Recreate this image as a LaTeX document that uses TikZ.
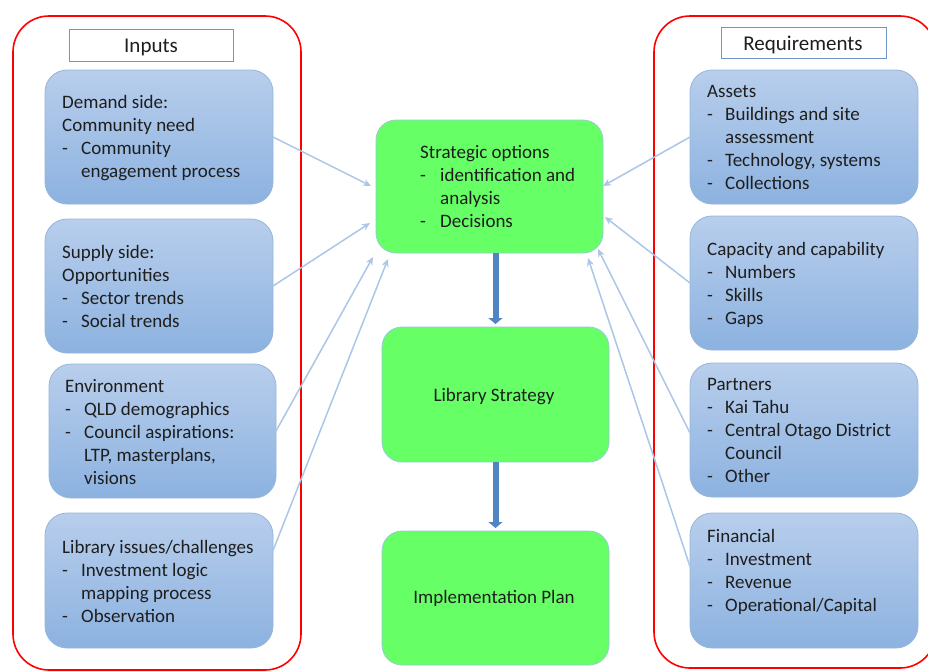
\documentclass[tikz,border=0pt]{standalone}
\usepackage{fontspec}
\setmainfont{Carlito}
\usetikzlibrary{arrows.meta,calc}
\definecolor{boxtop}{RGB}{184,206,236}
\definecolor{boxbot}{RGB}{140,178,224}
\definecolor{boxline}{RGB}{150,182,218}
\definecolor{grn}{RGB}{102,255,102}
\definecolor{grnline}{RGB}{150,205,215}
\definecolor{thinarr}{RGB}{172,198,232}
\definecolor{thickarr}{RGB}{80,133,196}
\definecolor{txt}{RGB}{30,30,30}
\definecolor{lblline}{RGB}{110,150,200}
\newcommand\dd[2][19pt]{\makebox[#1][l]{-}#2}
\newcommand\cc[2][19pt]{\hspace*{#1}#2}
\newcommand\tb[1]{\begin{tabular}[t]{@{}l@{}}#1\end{tabular}}
\begin{document}
\begin{tikzpicture}[x=1pt,y=-1pt,
  bluebox/.style={draw=boxline, line width=0.8pt, rounded corners=22pt, top color=boxtop, bottom color=boxbot, anchor=north west, inner sep=0pt, outer sep=0pt},
  greenbox/.style={draw=grnline, line width=0.8pt, fill=grn, rounded corners=20pt, anchor=north west, inner sep=0pt, outer sep=0pt},
  frm/.style={draw=red, line width=1.6pt, rounded corners=36pt},
  lblbox/.style={draw=lblline, line width=0.8pt, fill=white, anchor=north west, inner sep=0pt},
  tx/.style={anchor=base west, inner sep=0pt, font=\fontsize{19}{23}\selectfont, text=txt},
  ctx/.style={anchor=base, inner sep=0pt, font=\fontsize{19}{23}\selectfont, text=txt},
  ltx/.style={anchor=base, inner sep=0pt, font=\fontsize{21}{25}\selectfont, text=txt},
  thin/.style={draw=thinarr, line width=1.5pt, -{Stealth[length=8pt,width=7pt]}},
  thick/.style={draw=thickarr, line width=6pt, -{Triangle[length=6pt,width=14pt]}, shorten >=3pt}
]
\useasboundingbox (0,0) rectangle (928,670);
\clip (0,0) rectangle (928,670);
\fill[white] (0,0) rectangle (928,670);

% frames
\draw[frm] (13,16) rectangle (301,670);
\draw[frm] (654,16) rectangle (936,668);

% labels
\node[lblbox, minimum width=164pt, minimum height=32pt] (inbox) at (69,29) {};
\node[ltx] (intxt) at (151,52) {Inputs};
\node[lblbox, minimum width=165pt, minimum height=31pt] (reqbox) at (721,27) {};
\node[ltx] (reqtxt) at (803,50) {Requirements};

% left boxes
\node[bluebox, minimum width=228pt, minimum height=134pt] (demand) at (45,70) {};
\node[bluebox, minimum width=228pt, minimum height=134pt] (supply) at (45,219) {};
\node[bluebox, minimum width=227pt, minimum height=134pt] (env) at (49,364) {};
\node[bluebox, minimum width=228pt, minimum height=135pt] (lib) at (45,513) {};

\node[tx] (demandtxt) at (62,108) {\tb{Demand side:\\ Community need\\ \dd{Community}\\ \cc{engagement process}}};
\node[tx] (supplytxt) at (62,258) {\tb{Supply side:\\ Opportunities\\ \dd{Sector trends}\\ \dd{Social trends}}};
\node[tx] (envtxt) at (65,392) {\tb{Environment\\ \dd{QLD demographics}\\ \dd{Council aspirations:}\\ \cc{LTP, masterplans,}\\ \cc{visions}}};
\node[tx] (libtxt) at (62,553) {\tb{Library issues/challenges\\ \dd{Investment logic}\\ \cc{mapping process}\\ \dd{Observation}}};

% right boxes
\node[bluebox, minimum width=228pt, minimum height=134pt] (assets) at (690,70) {};
\node[bluebox, minimum width=228pt, minimum height=134pt] (cap) at (690,216) {};
\node[bluebox, minimum width=228pt, minimum height=134pt] (part) at (690,363) {};
\node[bluebox, minimum width=228pt, minimum height=135pt] (fin) at (690,513) {};

\node[tx] (assetstxt) at (707,97) {\tb{Assets\\ \dd[18pt]{Buildings and site}\\ \cc[18pt]{assessment}\\ \dd[18pt]{Technology, systems}\\ \dd[18pt]{Collections}}};
\node[tx] (captxt) at (707,255) {\tb{Capacity and capability\\ \dd[18pt]{Numbers}\\ \dd[18pt]{Skills}\\ \dd[18pt]{Gaps}}};
\node[tx] (parttxt) at (707,390) {\tb{Partners\\ \dd[18pt]{Kai Tahu}\\ \dd[18pt]{Central Otago District}\\ \cc[18pt]{Council}\\ \dd[18pt]{Other}}};
\node[tx] (fintxt) at (707,542) {\tb{Financial\\ \dd[18pt]{Investment}\\ \dd[18pt]{Revenue}\\ \dd[18pt]{Operational/Capital}}};

% centre boxes
\node[greenbox, minimum width=227pt, minimum height=133pt] (strat) at (376,120) {};
\node[greenbox, minimum width=227pt, minimum height=135pt] (libs) at (382,327) {};
\node[greenbox, minimum width=227pt, minimum height=134pt] (impl) at (382,531) {};

\node[tx] (strattxt) at (420,158) {\tb{Strategic options\\ \dd[20pt]{identification and}\\ \cc[20pt]{analysis}\\ \dd[20pt]{Decisions}}};
\node[ctx] (libstxt) at (494,401) {Library Strategy};
\node[ctx] (impltxt) at (494,603) {Implementation Plan};

% arrow targets
\coordinate (s1) at (371,186);
\coordinate (s2) at (370,223);
\coordinate (s3) at (373,257);
\coordinate (s4) at (388,259);
\coordinate (t1) at (603,186);
\coordinate (t2) at (605,217);
\coordinate (t3) at (598,249);
\coordinate (t4) at (588,258);

\draw[thin] (demand.east) -- (s1);
\draw[thin] (supply.east) -- (s2);
\draw[thin] (env.east) -- (s3);
\draw[thin] ($(lib.east)+(0,-30)$) -- (s4);
\draw[thin] (assets.west) -- (t1);
\draw[thin] (cap.west) -- (t2);
\draw[thin] ($(part.west)+(0,3)$) -- (t3);
\draw[thin] ($(fin.west)+(0,-14)$) -- (t4);

% thick arrows
\draw[thick] (libs.north |- strat.south) -- (libs.north);
\draw[thick] (libs.south) -- (impl.north);
\end{tikzpicture}
\end{document}
